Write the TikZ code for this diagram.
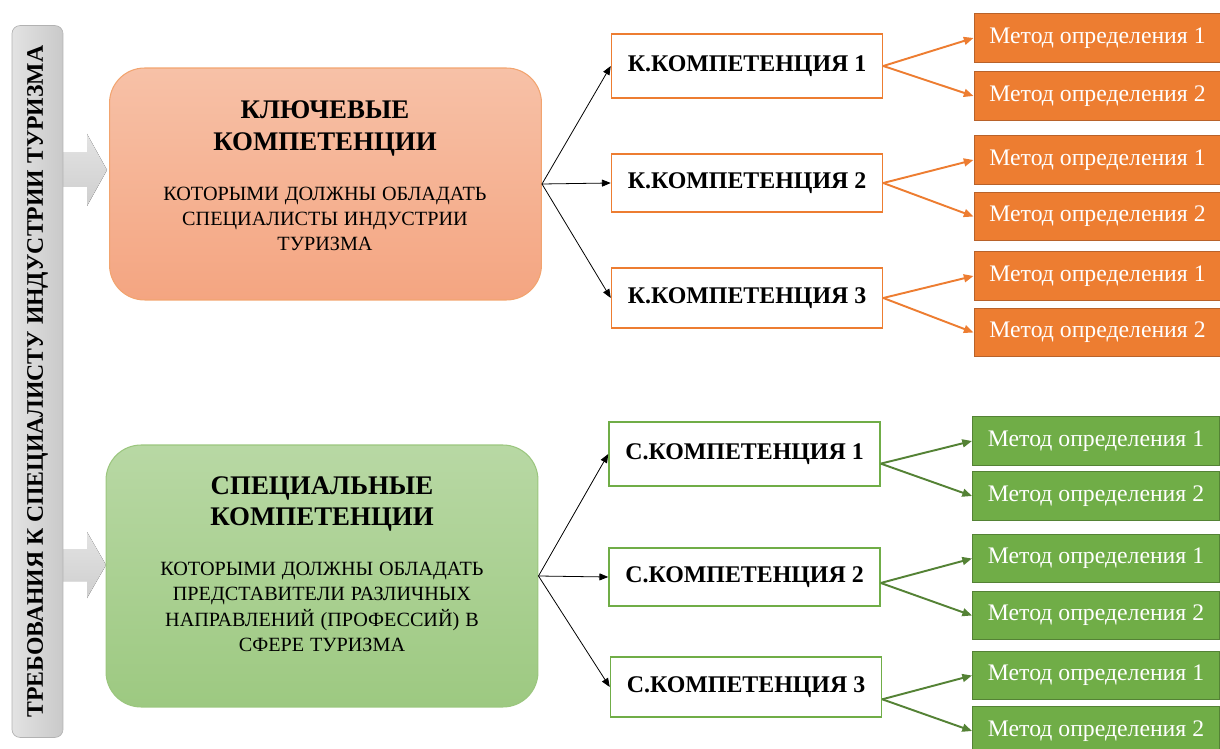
\documentclass[tikz,border=0pt]{standalone}
\usepackage{fontspec}
\setmainfont{Liberation Serif}
\usetikzlibrary{arrows.meta}

\definecolor{korange}{HTML}{ED7D31}
\definecolor{korangedark}{HTML}{B8622A}
\definecolor{ktop}{HTML}{F7C1A7}
\definecolor{kbot}{HTML}{F4A581}
\definecolor{sgreen}{HTML}{70AD47}
\definecolor{sgreendark}{HTML}{548235}
\definecolor{stop}{HTML}{B8D8A4}
\definecolor{sbot}{HTML}{9DC981}

\newcommand\headfont{\bfseries\fontsize{15.3}{18}\selectfont}
\newcommand\descfont{\mdseries\fontsize{11.5}{14.4}\selectfont}

\tikzset{
  bigbox/.style={rounded corners=0.7cm, minimum width=8.64cm, line width=0.6pt},
  compbox/.style={draw, fill=white, line width=0.9pt, minimum width=5.42cm, minimum height=1.22cm,
    font=\bfseries\fontsize{13.6}{16}\selectfont},
  methodbox/.style={draw, line width=0.6pt, minimum width=4.94cm, minimum height=0.97cm,
    text=white, font=\fontsize{13.5}{16}\selectfont},
  blackarrow/.style={-{Triangle[length=5pt,width=4pt]}, line width=0.45pt},
  colorarrow/.style={-{Triangle[length=5.5pt,width=4.5pt]}, line width=1.1pt},
  blockarrow/.style={top color=gray!22, bottom color=gray!38, draw=none}
}

\begin{document}
\begin{tikzpicture}[x=0.02cm, y=-0.02cm]
\useasboundingbox (0,0) rectangle (1220,749);

% block arrows from the bar
\fill[blockarrow] (58,153) -- (87,153) -- (87,134) -- (107,170) -- (87,206) -- (87,187) -- (58,187) -- cycle;
\fill[blockarrow] (58,549) -- (87,549) -- (87,532) -- (106,565) -- (87,598) -- (87,581) -- (58,581) -- cycle;

% vertical bar
\node[draw=gray!60, left color=gray!22, right color=gray!42, rounded corners=0.16cm,
  minimum width=1.02cm, minimum height=14.24cm] (bar) at (37.5,381.5) {};
\node[rotate=90, font=\bfseries\fontsize{13.5}{16}\selectfont] (bartext) at (bar.center)
  {ТРЕБОВАНИЯ К СПЕЦИАЛИСТУ ИНДУСТРИИ ТУРИЗМА};

% main blocks
\node[bigbox, draw=korange!70, top color=ktop, bottom color=kbot, minimum height=4.64cm] (kbox) at (325.5,184) {};
\node[align=center, text width=8cm] (ktext) at (325,176)
  {\headfont КЛЮЧЕВЫЕ\\КОМПЕТЕНЦИИ\\[14pt]
   \descfont КОТОРЫМИ ДОЛЖНЫ ОБЛАДАТЬ\\СПЕЦИАЛИСТЫ ИНДУСТРИИ\\ТУРИЗМА\par};

\node[bigbox, draw=sgreen!70, top color=stop, bottom color=sbot, minimum height=5.24cm] (sbox) at (322,576) {};
\node[align=center, text width=8cm] (stext) at (322,564)
  {\headfont СПЕЦИАЛЬНЫЕ\\КОМПЕТЕНЦИИ\\[14pt]
   \descfont КОТОРЫМИ ДОЛЖНЫ ОБЛАДАТЬ\\ПРЕДСТАВИТЕЛИ РАЗЛИЧНЫХ\\НАПРАВЛЕНИЙ (ПРОФЕССИЙ) В\\СФЕРЕ ТУРИЗМА\par};

% key competences
\node[compbox, draw=korange, minimum height=1.28cm] (kc1) at (747,66) {К.КОМПЕТЕНЦИЯ 1};
\node[compbox, draw=korange, minimum height=1.16cm] (kc2) at (747,183) {К.КОМПЕТЕНЦИЯ 2};
\node[compbox, draw=korange, minimum height=1.2cm] (kc3) at (747,298) {К.КОМПЕТЕНЦИЯ 3};

% special competences
\node[compbox, draw=sgreen, minimum height=1.28cm] (sc1) at (744.5,454) {С.КОМПЕТЕНЦИЯ 1};
\node[compbox, draw=sgreen, minimum height=1.16cm] (sc2) at (744.5,577) {С.КОМПЕТЕНЦИЯ 2};
\node[compbox, draw=sgreen, minimum height=1.2cm] (sc3) at (746,687) {С.КОМПЕТЕНЦИЯ 3};

% methods (orange)
\node[methodbox, fill=korange, draw=korangedark] (km11) at (1097.5,38) {Метод определения 1};
\node[methodbox, fill=korange, draw=korangedark] (km12) at (1097.5,96) {Метод определения 2};
\node[methodbox, fill=korange, draw=korangedark] (km21) at (1097.5,160) {Метод определения 1};
\node[methodbox, fill=korange, draw=korangedark] (km22) at (1097.5,216.5) {Метод определения 2};
\node[methodbox, fill=korange, draw=korangedark] (km31) at (1097.5,276) {Метод определения 1};
\node[methodbox, fill=korange, draw=korangedark] (km32) at (1097.5,332.5) {Метод определения 2};

% methods (green)
\node[methodbox, fill=sgreen, draw=sgreendark] (sm11) at (1096,441) {Метод определения 1};
\node[methodbox, fill=sgreen, draw=sgreendark] (sm12) at (1096,496) {Метод определения 2};
\node[methodbox, fill=sgreen, draw=sgreendark] (sm21) at (1096,558.5) {Метод определения 1};
\node[methodbox, fill=sgreen, draw=sgreendark] (sm22) at (1096,615.5) {Метод определения 2};
\node[methodbox, fill=sgreen, draw=sgreendark] (sm31) at (1096,675.5) {Метод определения 1};
\node[methodbox, fill=sgreen, draw=sgreendark] (sm32) at (1096,731) {Метод определения 2};

% black connectors
\draw[blackarrow] (kbox.east) -- (kc1.west);
\draw[blackarrow] (kbox.east) -- (kc2.west);
\draw[blackarrow] (kbox.east) -- (kc3.west);
\draw[blackarrow] (sbox.east) -- (sc1.west);
\draw[blackarrow] (sbox.east) -- (sc2.west);
\draw[blackarrow] (sbox.east) -- (sc3.west);

% orange connectors
\draw[colorarrow, korange] (kc1.east) -- (km11.west);
\draw[colorarrow, korange] (kc1.east) -- (km12.west);
\draw[colorarrow, korange] (kc2.east) -- (km21.west);
\draw[colorarrow, korange] (kc2.east) -- (km22.west);
\draw[colorarrow, korange] (kc3.east) -- (km31.west);
\draw[colorarrow, korange] (kc3.east) -- (km32.west);

% green connectors
\draw[colorarrow, sgreendark] ([yshift=-5.5pt]sc1.east) -- (sm11.west);
\draw[colorarrow, sgreendark] ([yshift=-5.5pt]sc1.east) -- (sm12.west);
\draw[colorarrow, sgreendark] ([yshift=-3.4pt]sc2.east) -- (sm21.west);
\draw[colorarrow, sgreendark] ([yshift=-3.4pt]sc2.east) -- (sm22.west);
\draw[colorarrow, sgreendark] ([yshift=-7pt]sc3.east) -- (sm31.west);
\draw[colorarrow, sgreendark] ([yshift=-7pt]sc3.east) -- (sm32.west);
\end{tikzpicture}
\end{document}
